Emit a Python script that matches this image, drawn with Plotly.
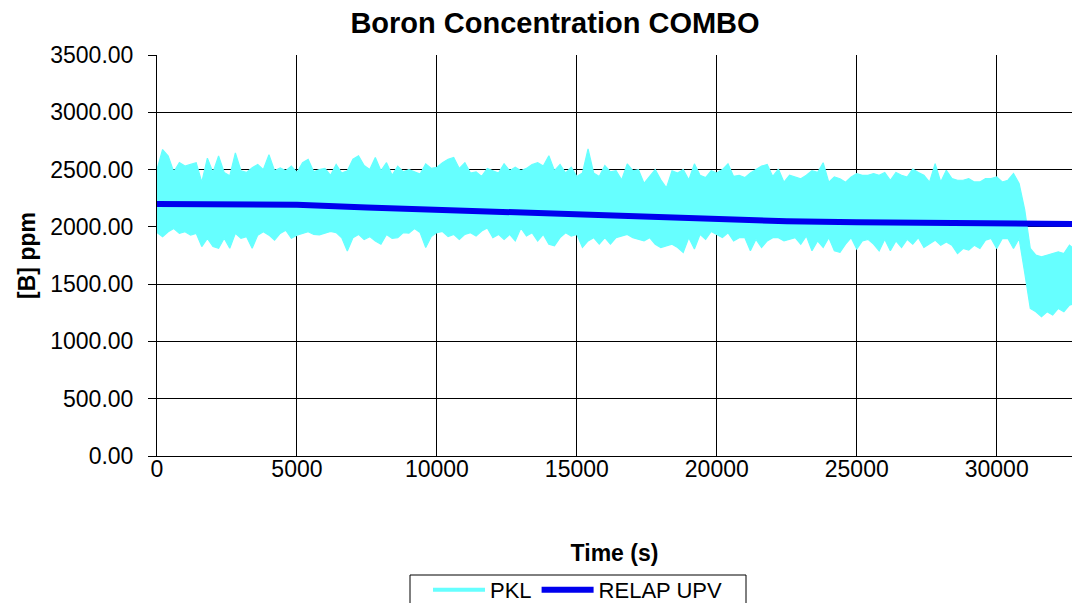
import plotly.graph_objects as go

# ---------------- data ----------------
title_text = "Boron Concentration COMBO"
x_title = "Time (s)"
y_title = "[B] ppm"

# PKL measured signal: hand-read upper / lower envelope of the noisy trace, sampled every 200 s
pkl_step_s = 200
pkl_upper = [
    2500, 2675, 2618, 2480, 2560, 2530, 2545, 2560, 2390, 2600, 2475, 2618, 2475, 2445, 2645, 2490, 2475, 2515, 2545, 2500, 2630, 2490, 2515, 2490, 2530, 2475, 2560, 2590,
    2480, 2500, 2510, 2450, 2545, 2470, 2490, 2590, 2620, 2535, 2500, 2605, 2490, 2560, 2450, 2530, 2480, 2500, 2480, 2460, 2550, 2510, 2520, 2560, 2590, 2605, 2510, 2560,
    2470, 2480, 2440, 2510, 2490, 2470, 2550, 2490, 2520, 2490, 2510, 2545, 2560, 2530, 2620, 2490, 2545, 2470, 2520, 2440, 2470, 2680, 2470, 2440, 2535, 2480, 2490,
    2410, 2550, 2490, 2500, 2380, 2440, 2500, 2410, 2340, 2490, 2470, 2500, 2410, 2550, 2450, 2430, 2490, 2470, 2500, 2550, 2440, 2450, 2430, 2470, 2500, 2530, 2545, 2440,
    2505, 2390, 2450, 2435, 2420, 2450, 2490, 2475, 2560, 2390, 2435, 2420, 2390, 2435, 2465, 2450, 2450, 2465, 2450, 2475, 2405, 2475, 2450, 2435, 2505, 2475, 2450, 2390,
    2552, 2392, 2494, 2421, 2407, 2407, 2421, 2392, 2392, 2421, 2421, 2436, 2392, 2407, 2465, 2378, 2150, 1811, 1753, 1738, 1753, 1767, 1782, 1767, 1840, 1800,
]
pkl_lower = [
    1950, 1914, 1957, 1986, 1943, 1957, 1928, 1943, 1828, 1900, 1828, 1813, 1900, 1813, 1943, 1900, 1914, 1813, 1928, 1957, 1928, 1885, 1943, 1971, 1900, 1928, 1943, 1957,
    1934, 1930, 1945, 1960, 1950, 1905, 1790, 1905, 1934, 1890, 1915, 1876, 1848, 1934, 1900, 1905, 1950, 1945, 1985, 1950, 1820, 1915, 1950, 1960, 1915, 1934, 1890, 1934,
    1949, 1920, 1963, 1991, 1906, 1934, 1891, 1934, 1877, 1991, 1920, 1949, 1877, 1934, 1849, 1834, 1906, 1949, 1920, 1934, 1820, 1877, 1906, 1849, 1906, 1849, 1906,
    1920, 1934, 1906, 1891, 1877, 1906, 1849, 1820, 1834, 1849, 1820, 1777, 1906, 1806, 1934, 1891, 1960, 1934, 1906, 1949, 1877, 1906, 1906, 1791, 1891, 1820, 1877, 1906,
    1906, 1877, 1891, 1906, 1849, 1920, 1791, 1877, 1820, 1906, 1791, 1777, 1849, 1906, 1806, 1877, 1891, 1849, 1791, 1891, 1791, 1877, 1820, 1891, 1849, 1906, 1820, 1849,
    1884, 1840, 1869, 1840, 1767, 1811, 1797, 1840, 1811, 1884, 1898, 1811, 1898, 1898, 1811, 1898, 1600, 1288, 1259, 1215, 1259, 1230, 1288, 1259, 1317, 1330,
]
pkl_time = [i * pkl_step_s for i in range(len(pkl_upper))]

# RELAP UPV calculation
relap_time = [0, 2500, 5000, 7500, 10000, 12500, 15000, 17500, 20000, 22500, 25000, 27500, 30000, 32800]
relap_ppm = [2200, 2200, 2192, 2170, 2148, 2125, 2103, 2080, 2058, 2048, 2040, 2033, 2027, 2025]

x_ticks = [0, 5000, 10000, 15000, 20000, 25000, 30000]
y_ticks = [0, 500, 1000, 1500, 2000, 2500, 3000, 3500]
y_tick_labels = ["0.00", "500.00", "1000.00", "1500.00", "2000.00", "2500.00", "3000.00", "3500.00"]

# ---------------- styles ----------------
CYAN = "#66FFFF"
BLUE = "#0000EE"
FONT = "Liberation Sans, Arial, sans-serif"
W, H = 1072, 603
ML, MT, MB, MR = 157, 55, 147, 0
PW, PH = W - ML - MR, H - MT - MB

fig = go.Figure()

# PKL band (envelope polygon)
fig.add_trace(go.Scatter(
    x=pkl_time + pkl_time[::-1],
    y=pkl_upper + pkl_lower[::-1],
    mode="lines", fill="toself", fillcolor=CYAN,
    line=dict(color=CYAN, width=1.2),
    showlegend=False, legendgroup="pkl", hoverinfo="skip",
))
# PKL legend entry
fig.add_trace(go.Scatter(
    x=[None], y=[None], mode="lines", name="PKL",
    line=dict(color=CYAN, width=4), legendgroup="pkl",
))
# RELAP UPV
fig.add_trace(go.Scatter(
    x=relap_time, y=relap_ppm, mode="lines", name="RELAP UPV",
    line=dict(color=BLUE, width=6),
))

# legend frame (Excel-style box, cut by the bottom edge)
def px_to_paper_x(px):
    return (px - ML) / PW

def px_to_paper_y(py):
    return (H - MB - py) / PH

fig.add_shape(type="rect", xref="paper", yref="paper",
              x0=px_to_paper_x(410), x1=px_to_paper_x(746),
              y0=px_to_paper_y(575), y1=px_to_paper_y(620),
              line=dict(color="black", width=1), fillcolor="rgba(0,0,0,0)", layer="above")

fig.update_layout(
    width=W, height=H,
    paper_bgcolor="white", plot_bgcolor="white",
    margin=dict(l=ML, r=MR, t=MT, b=MB),
    font=dict(family=FONT, size=23, color="black"),
    title=dict(text="<b>" + title_text + "</b>", font=dict(size=29, family=FONT),
               x=555 / W, xref="container", xanchor="center",
               y=1 - 23 / H, yref="container", yanchor="middle"),
    xaxis=dict(
        range=[0, 32690], tickvals=x_ticks, ticktext=[str(v) for v in x_ticks],
        showgrid=True, gridcolor="black", gridwidth=1,
        showline=True, linecolor="black", linewidth=1,
        ticks="", zeroline=False, ticklabelstandoff=-8,
        title=dict(text="<b>" + x_title + "</b>", standoff=64, font=dict(size=23)),
        tickfont=dict(size=23),
    ),
    yaxis=dict(
        range=[0, 3500], tickvals=y_ticks, ticktext=y_tick_labels,
        showgrid=True, gridcolor="black", gridwidth=1,
        showline=True, linecolor="black", linewidth=1,
        ticks="outside", ticklen=8, tickcolor="black", ticklabelstandoff=10,
        zeroline=False,
        title=dict(text="<b>" + y_title + "</b>", standoff=8, font=dict(size=23)),
        tickfont=dict(size=23),
    ),
    legend=dict(
        orientation="h", xref="container", yref="container",
        x=428 / W, xanchor="left", y=1 - 569 / H, yanchor="top",
        borderwidth=0, bgcolor="rgba(0,0,0,0)",
        font=dict(size=22), itemwidth=52, tracegroupgap=0,
    ),
)

fig.write_html(
    "out.html",
    config={"displayModeBar": False},
    post_script="document.body.style.margin='0';document.body.style.overflow='hidden';",
)
